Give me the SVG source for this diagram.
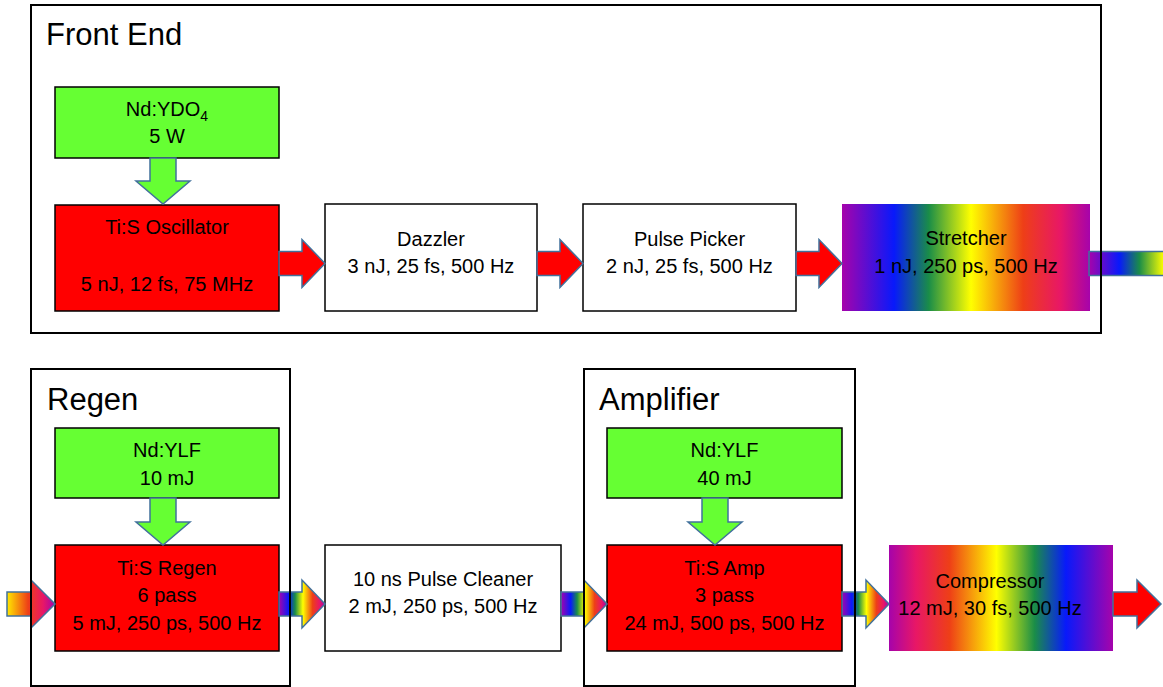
<svg xmlns="http://www.w3.org/2000/svg" width="1163" height="687" viewBox="0 0 1163 687">
<style>
.frame{fill:none;stroke:#000;stroke-width:2}
.box{stroke:#000;stroke-width:1.5}
.white{fill:#fff}
.green{fill:#66FF33}
.red{fill:#FF0000}
.arrow{stroke:#41719C;stroke-width:1.5;stroke-linejoin:miter}
.t{font-family:"Liberation Sans",Arial,sans-serif;font-size:20px;fill:#000;text-anchor:middle}
.title{font-family:"Liberation Sans",Arial,sans-serif;font-size:31px;fill:#000}
</style>
<defs>
<linearGradient id="rainbow" x1="0" y1="0" x2="1" y2="0">
<stop offset="0" stop-color="#A603AB"/>
<stop offset="0.21" stop-color="#0819FB"/>
<stop offset="0.35" stop-color="#1A8D48"/>
<stop offset="0.52" stop-color="#FFFF00"/>
<stop offset="0.73" stop-color="#EE3F17"/>
<stop offset="0.88" stop-color="#E81766"/>
<stop offset="1" stop-color="#A603AB"/>
</linearGradient>
<linearGradient id="rainbowRev" x1="0" y1="0" x2="1" y2="0">
<stop offset="0" stop-color="#A603AB"/>
<stop offset="0.12" stop-color="#E81766"/>
<stop offset="0.27" stop-color="#EE3F17"/>
<stop offset="0.48" stop-color="#FFFF00"/>
<stop offset="0.65" stop-color="#1A8D48"/>
<stop offset="0.79" stop-color="#0819FB"/>
<stop offset="1" stop-color="#A603AB"/>
</linearGradient>
<linearGradient id="rainbowHalf" x1="0" y1="0" x2="1" y2="0">
<stop offset="0" stop-color="#FFE800"/>
<stop offset="0.44" stop-color="#EE3F17"/>
<stop offset="0.75" stop-color="#E81766"/>
<stop offset="1" stop-color="#A603AB"/>
</linearGradient>
<linearGradient id="rainbowOut" gradientUnits="userSpaceOnUse" x1="1089" y1="0" x2="1233" y2="0">
<stop offset="0" stop-color="#A603AB"/>
<stop offset="0.21" stop-color="#0819FB"/>
<stop offset="0.35" stop-color="#1A8D48"/>
<stop offset="0.52" stop-color="#FFFF00"/>
<stop offset="0.73" stop-color="#EE3F17"/>
<stop offset="0.88" stop-color="#E81766"/>
<stop offset="1" stop-color="#A603AB"/>
</linearGradient>
</defs>
<rect width="1163" height="687" fill="#fff"/>

<g id="ndydo4">
<rect class="box green" x="55" y="87" width="224" height="71"/>
<text class="t" x="167" y="116">Nd:YDO<tspan font-size="14" dy="5">4</tspan></text>
<text class="t" x="167" y="143">5 W</text>
</g>
<g id="ti-s-oscillator">
<rect class="box red" x="55" y="205" width="224" height="106"/>
<text class="t" x="167" y="234">Ti:S Oscillator</text>
<text class="t" x="167" y="291">5 nJ, 12 fs, 75 MHz</text>
</g>
<g id="dazzler">
<rect class="box white" x="325" y="204" width="212" height="107"/>
<text class="t" x="431" y="246">Dazzler</text>
<text class="t" x="431" y="273">3 nJ, 25 fs, 500 Hz</text>
</g>
<g id="pulse-picker">
<rect class="box white" x="583" y="204" width="213" height="107"/>
<text class="t" x="689.5" y="246">Pulse Picker</text>
<text class="t" x="689.5" y="273">2 nJ, 25 fs, 500 Hz</text>
</g>
<g id="stretcher">
<rect x="842" y="204" width="248" height="107" fill="url(#rainbow)"/>
<text class="t" x="966" y="245">Stretcher</text>
<text class="t" x="966" y="273">1 nJ, 250 ps, 500 Hz</text>
</g>

<g id="ndylf-regen">
<rect class="box green" x="55" y="428" width="224" height="70"/>
<text class="t" x="167" y="457">Nd:YLF</text>
<text class="t" x="167" y="485">10 mJ</text>
</g>
<g id="ti-s-regen">
<rect class="box red" x="55" y="545" width="224" height="106"/>
<text class="t" x="167" y="575">Ti:S Regen</text>
<text class="t" x="167" y="602">6 pass</text>
<text class="t" x="167" y="630">5 mJ, 250 ps, 500 Hz</text>
</g>
<g id="pulse-cleaner">
<rect class="box white" x="325" y="545" width="236" height="106"/>
<text class="t" x="443" y="586">10 ns Pulse Cleaner</text>
<text class="t" x="443" y="613">2 mJ, 250 ps, 500 Hz</text>
</g>
<g id="ndylf-amp">
<rect class="box green" x="607" y="428" width="235" height="70"/>
<text class="t" x="724.5" y="457">Nd:YLF</text>
<text class="t" x="724.5" y="485">40 mJ</text>
</g>
<g id="ti-s-amp">
<rect class="box red" x="607" y="545" width="235" height="106"/>
<text class="t" x="724.5" y="575">Ti:S Amp</text>
<text class="t" x="724.5" y="602">3 pass</text>
<text class="t" x="724.5" y="630">24 mJ, 500 ps, 500 Hz</text>
</g>
<g id="compressor">
<rect x="889" y="545" width="224" height="106" fill="url(#rainbowRev)"/>
<text class="t" x="990" y="588">Compressor</text>
<text class="t" x="990" y="615">12 mJ, 30 fs, 500 Hz</text>
</g>

<g id="connectors">
<polygon class="arrow green" points="150,158 176,158 176,181 190,181 163,204 136,181 150,181"/>
<polygon class="arrow red" points="279,251.5 302,251.5 302,239.5 325,263.5 302,287.5 302,275.5 279,275.5"/>
<polygon class="arrow red" points="537,251.5 560,251.5 560,239.5 583,263.5 560,287.5 560,275.5 537,275.5"/>
<polygon class="arrow red" points="796,251.5 819,251.5 819,239.5 842,263.5 819,287.5 819,275.5 796,275.5"/>
<polygon class="arrow" fill="url(#rainbowOut)" points="1089,251.5 1210,251.5 1210,239.5 1233,263.5 1210,287.5 1210,275.5 1089,275.5"/>

<polygon class="arrow green" points="150,498 176,498 176,522 190,522 163,545 136,522 150,522"/>
<polygon class="arrow green" points="702,498 728,498 728,522 742,522 715,545 688,522 702,522"/>
<polygon class="arrow" fill="url(#rainbowHalf)" points="7,592 31,592 31,580 55,604 31,628 31,616 7,616"/>
<polygon class="arrow" fill="url(#rainbow)" points="279,592 302,592 302,580 325,604 302,628 302,616 279,616"/>
<polygon class="arrow" fill="url(#rainbow)" points="561,592 584,592 584,580 607,604 584,628 584,616 561,616"/>
<polygon class="arrow" fill="url(#rainbow)" points="842,592 866,592 866,580 889,604 866,628 866,616 842,616"/>
<polygon class="arrow red" points="1113,592 1137,592 1137,580 1161,604 1137,628 1137,616 1113,616"/>
</g>

<g id="front-end">
<rect class="frame" x="31" y="5" width="1070" height="328"/>
<text class="title" x="46" y="45">Front End</text>
</g>
<g id="regen">
<rect class="frame" x="31" y="369" width="259" height="317"/>
<text class="title" x="47" y="410">Regen</text>
</g>
<g id="amplifier">
<rect class="frame" x="584" y="369" width="271" height="317"/>
<text class="title" x="599" y="410">Amplifier</text>
</g>
</svg>
